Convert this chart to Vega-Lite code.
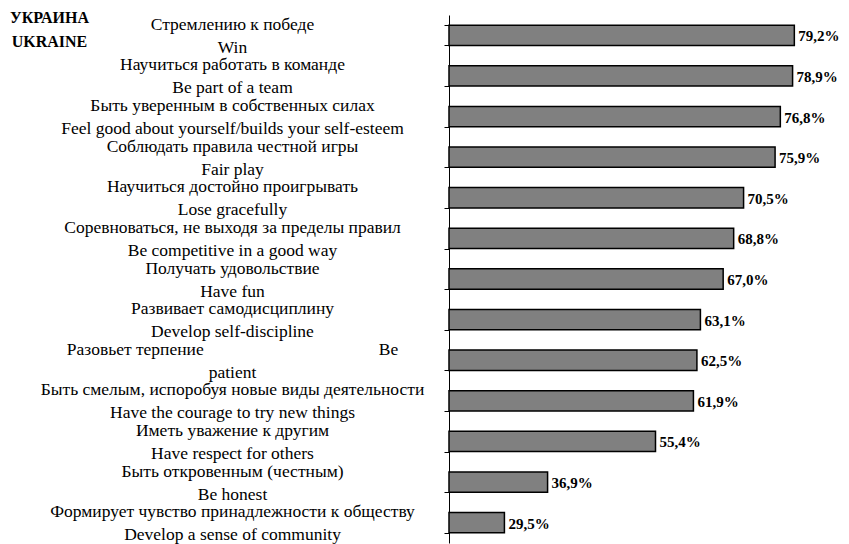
{
  "$schema": "https://vega.github.io/schema/vega-lite/v6.json",
  "width": 350,
  "height": 528,
  "autosize": {"type": "none"},
  "padding": {"left": 449, "top": 15, "right": 50, "bottom": 1},
  "background": "white",
  "config": {"view": {"stroke": null}, "font": "Liberation Serif"},
  "data": {
    "values": [
      {"cat": "Стремлению к победе|Win", "v": 79.2, "lab": "79,2%"},
      {"cat": "Научиться работать в команде|Be part of a team", "v": 78.9, "lab": "78,9%"},
      {"cat": "Быть уверенным в собственных силах|Feel good about yourself/builds your self-esteem", "v": 76.8, "lab": "76,8%"},
      {"cat": "Соблюдать правила честной игры|Fair play", "v": 75.9, "lab": "75,9%"},
      {"cat": "Научиться достойно проигрывать|Lose gracefully", "v": 70.5, "lab": "70,5%"},
      {"cat": "Соревноваться, не выходя за пределы правил|Be competitive in a good way", "v": 68.8, "lab": "68,8%"},
      {"cat": "Получать удовольствие|Have fun", "v": 67.0, "lab": "67,0%"},
      {"cat": "Развивает самодисциплину|Develop self-discipline", "v": 63.1, "lab": "63,1%"},
      {"cat": "Разовьет терпение\u00a0\u00a0\u00a0\u00a0\u00a0\u00a0\u00a0\u00a0\u00a0\u00a0\u00a0\u00a0\u00a0\u00a0\u00a0\u00a0\u00a0\u00a0\u00a0\u00a0\u00a0\u00a0\u00a0\u00a0\u00a0\u00a0\u00a0\u00a0\u00a0\u00a0\u00a0\u00a0\u00a0\u00a0\u00a0\u00a0\u00a0\u00a0\u00a0\u00a0Be|patient", "v": 62.5, "lab": "62,5%"},
      {"cat": "Быть смелым, испоробуя новые виды деятельности|Have the courage to try new things", "v": 61.9, "lab": "61,9%"},
      {"cat": "Иметь уважение к другим|Have respect for others", "v": 55.4, "lab": "55,4%"},
      {"cat": "Быть откровенным (честным)|Be honest", "v": 36.9, "lab": "36,9%"},
      {"cat": "Формирует чувство принадлежности к обществу|Develop a sense of community", "v": 29.5, "lab": "29,5%"}
    ]
  },
  "encoding": {
    "y": {
      "field": "cat",
      "type": "nominal",
      "sort": null,
      "scale": {"paddingInner": 0.5, "paddingOuter": 0.25},
      "axis": {
        "title": ["УКРАИНА", "UKRAINE"],
        "titleAngle": 0,
        "titleAlign": "center",
        "titleBaseline": "top",
        "titleX": -400,
        "titleY": -6,
        "titleFont": "Liberation Serif",
        "titleFontSize": 16,
        "titleFontWeight": "bold",
        "titleLineHeight": 24,
        "titleColor": "black",
        "labelExpr": "split(datum.label, '|')",
        "labelAlign": "center",
        "labelBaseline": "middle",
        "labelOffset": -11,
        "labelPadding": 212,
        "labelFont": "Liberation Serif",
        "labelFontSize": 17.5,
        "labelLineHeight": 23,
        "labelColor": "black",
        "labelLimit": 0,
        "tickBand": "extent",
        "tickSize": 5,
        "tickColor": "black",
        "tickWidth": 1,
        "domainColor": "black",
        "domainWidth": 1,
        "grid": false
      }
    }
  },
  "layer": [
    {
      "mark": {"type": "bar", "fill": "#808080", "stroke": "black", "strokeWidth": 1.5},
      "encoding": {
        "x": {"field": "v", "type": "quantitative", "scale": {"domain": [20, 80], "clamp": true, "nice": false, "zero": false}, "axis": null}
      }
    },
    {
      "mark": {"type": "text", "align": "left", "baseline": "middle", "dx": 4, "dy": 1, "font": "Liberation Serif", "fontSize": 15, "fontWeight": "bold", "color": "black"},
      "encoding": {
        "x": {"field": "v", "type": "quantitative"},
        "text": {"field": "lab"}
      }
    }
  ]
}
